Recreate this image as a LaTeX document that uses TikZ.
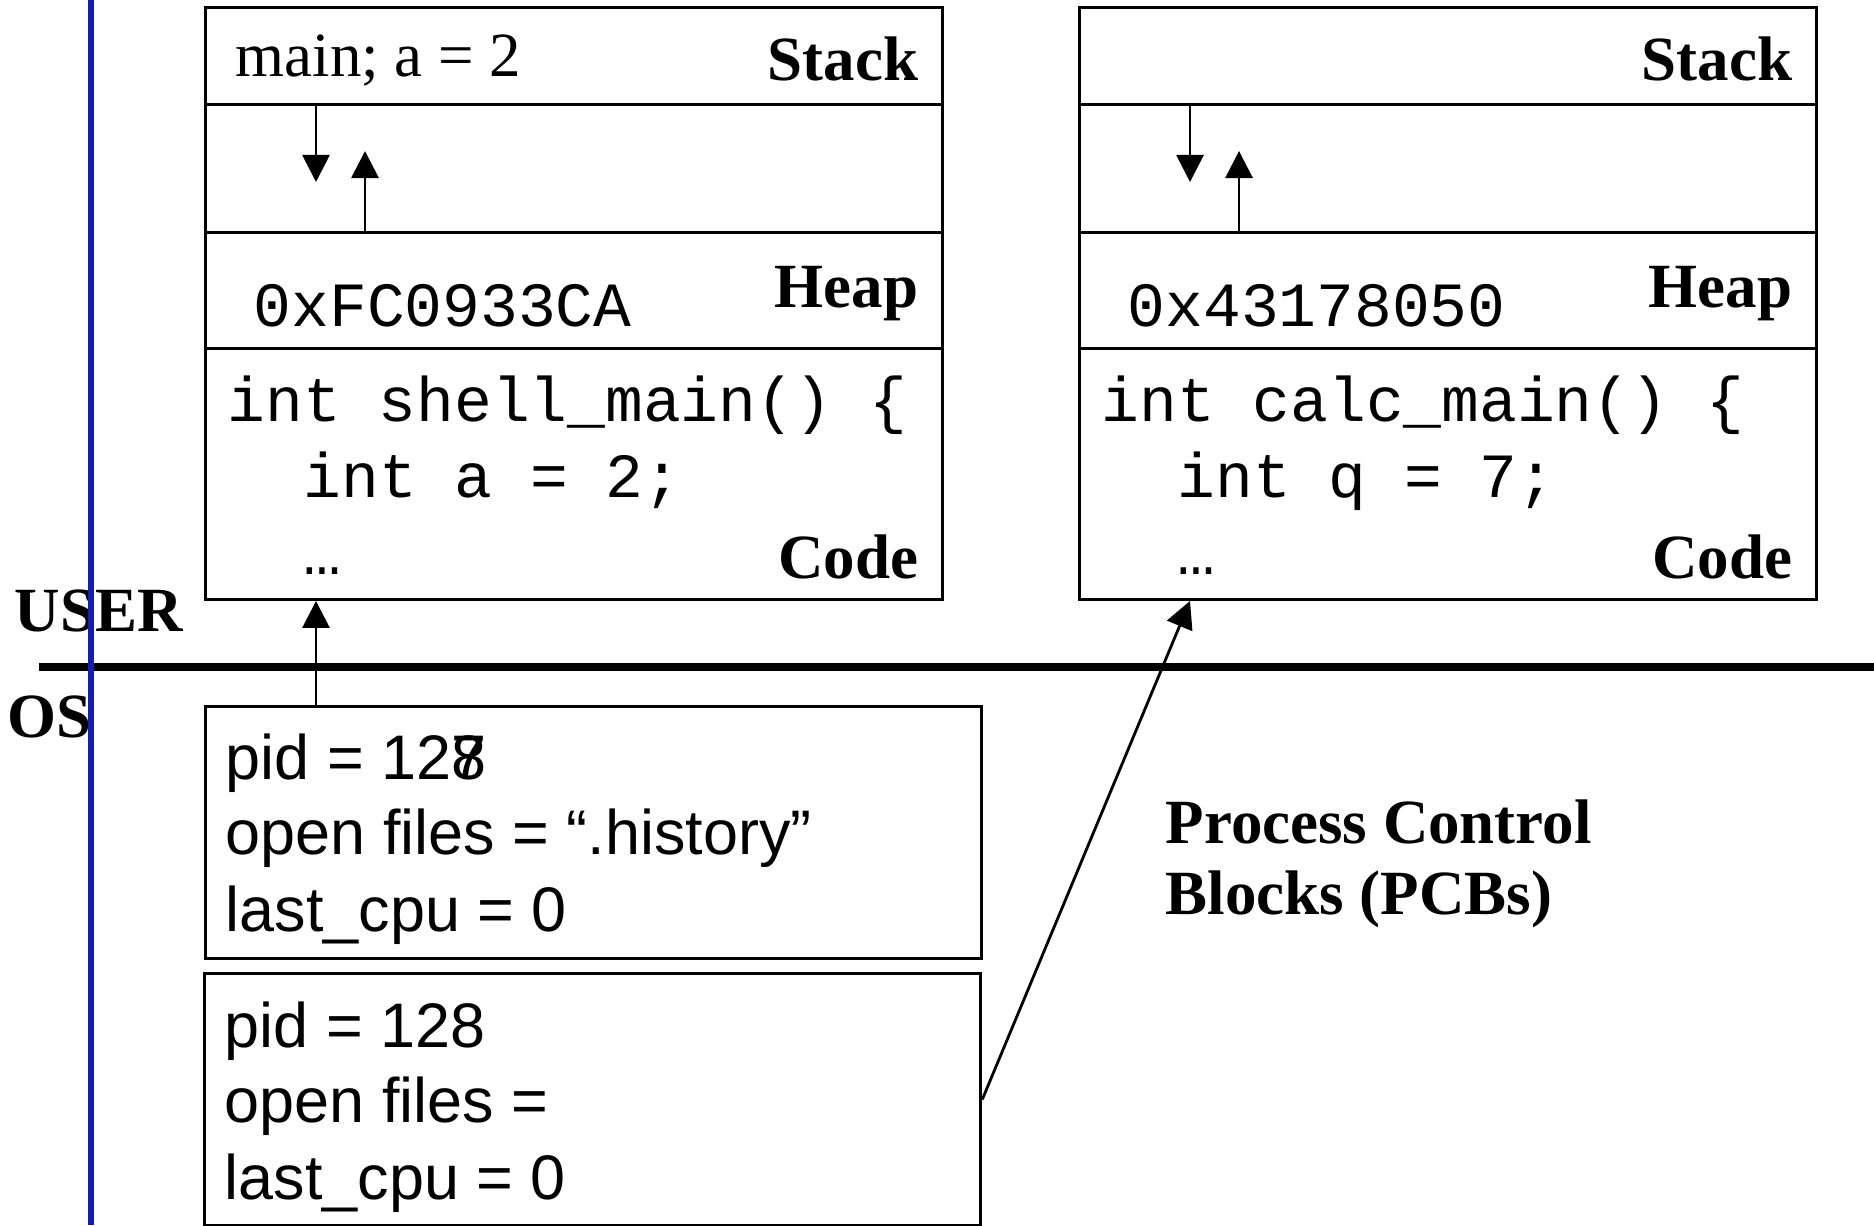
\documentclass[tikz,border=0pt]{standalone}
\usepackage{fontspec}
\setmainfont{Liberation Serif}
\setsansfont{Liberation Sans}
\setmonofont{Liberation Mono}
\usetikzlibrary{arrows.meta}
\definecolor{osblue}{RGB}{20,30,170}

\begin{document}
\begin{tikzpicture}[x=0.01cm,y=-0.01cm,font=\fontsize{17.9}{21}\selectfont]
  \tikzstyle{seg}=[draw,line width=0.8pt,inner sep=0,anchor=north west,minimum width=7.37cm]
  \tikzstyle{pcb}=[draw,line width=0.8pt,inner sep=0,anchor=north west,minimum width=7.76cm,minimum height=2.52cm]
  \tikzstyle{tag}=[inner sep=0,anchor=base east,font=\fontsize{17.9}{21}\selectfont\bfseries]
  \tikzstyle{txt}=[inner sep=0,anchor=base west]
  \tikzstyle{code}=[inner sep=0,anchor=base west,font=\fontsize{17.9}{21}\selectfont\ttfamily]
  \tikzstyle{ptxt}=[inner sep=0,anchor=base west,font=\fontsize{17.9}{21}\selectfont\sffamily]
  \tikzstyle{ptr}=[-{Triangle[length=2.7mm,width=2.7mm]},line width=0.8pt]

  \useasboundingbox (0,0) rectangle (1874,1225);

  % shell process
  \node(stack1)[seg,minimum height=0.97cm] at (204,6) {};
  \node(gap1)[seg,minimum height=1.28cm] at (204,103) {};
  \node(heap1)[seg,minimum height=1.16cm] at (204,231) {};
  \node(code1)[seg,minimum height=2.51cm] at (204,347) {};
  \node[txt] at (235,77) {main; a = 2};
  \node[tag] at (919,81) {Stack};
  \node[code] at (253,327) {0xFC0933CA};
  \node[tag] at (919,308) {Heap};
  \node[code] at (227,422) {int shell\_main() \{};
  \node[code] at (303,497) {int a = 2;};
  \node[code] at (303,574) {…};
  \node[tag] at (919,578) {Code};
  \coordinate (d1) at (316,182);
  \coordinate (u1) at (365,151);
  \draw[ptr] (gap1.north -| d1) -- (d1);
  \draw[ptr] (gap1.south -| u1) -- (u1);

  % calc process
  \node(stack2)[seg,minimum height=0.97cm] at (1078,6) {};
  \node(gap2)[seg,minimum height=1.28cm] at (1078,103) {};
  \node(heap2)[seg,minimum height=1.16cm] at (1078,231) {};
  \node(code2)[seg,minimum height=2.51cm] at (1078,347) {};
  \node[tag] at (1793,81) {Stack};
  \node[code] at (1127,327) {0x43178050};
  \node[tag] at (1793,308) {Heap};
  \node[code] at (1101,422) {int calc\_main() \{};
  \node[code] at (1177,497) {int q = 7;};
  \node[code] at (1177,574) {…};
  \node[tag] at (1793,578) {Code};
  \coordinate (d2) at (1190,182);
  \coordinate (u2) at (1239,151);
  \draw[ptr] (gap2.north -| d2) -- (d2);
  \draw[ptr] (gap2.south -| u2) -- (u2);

  % user / os split
  \node[tag,anchor=base west] at (14,631) {USER};
  \node[tag,anchor=base west] at (7,737) {OS};
  \draw[line width=2pt] (39,667) -- (1874,667);
  \draw[osblue,line width=1.7pt] (91,0) -- (91,1225);

  % PCBs
  \node(pcb1)[pcb] at (204,705) {};
  \node[ptxt] at (225,779) {pid = 12\rlap{7}8};
  \node[ptxt] at (225,854) {open files = “.history”};
  \node[ptxt] at (225,931) {last\_cpu = 0};
  \node(pcb2)[pcb] at (203,972) {};
  \node[ptxt] at (224,1047) {pid = 128};
  \node[ptxt] at (224,1122) {open files =};
  \node[ptxt] at (224,1199) {last\_cpu = 0};
  \node[tag,anchor=base west] at (1165,843) {Process Control};
  \node[tag,anchor=base west] at (1165,914) {Blocks (PCBs)};

  \draw[ptr] (pcb1.north -| d1) -- (code1.south -| d1);
  \draw[ptr] (pcb2.east) -- (code2.south -| d2);
\end{tikzpicture}
\end{document}
